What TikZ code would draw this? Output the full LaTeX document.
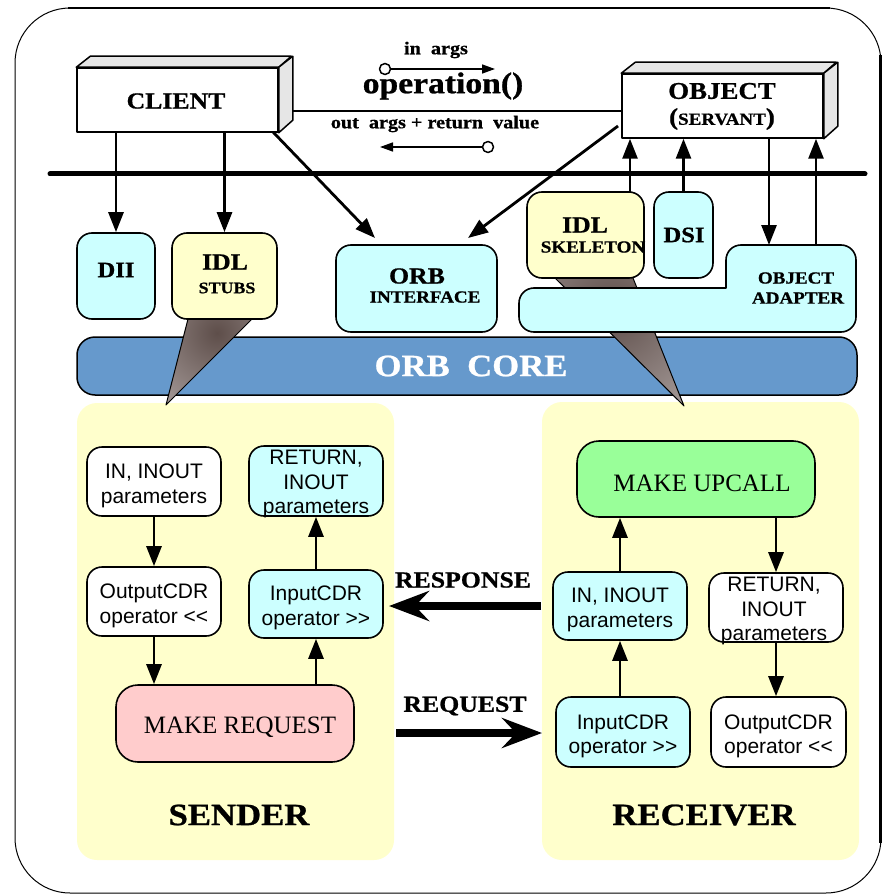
\documentclass[tikz,border=0pt]{standalone}
\usepackage{fontspec}
\setmainfont{Liberation Serif}[BoldFeatures={FakeBold=0.8}]
\newfontfamily\arialf{Liberation Sans}
\usepackage{graphicx}
\usetikzlibrary{arrows.meta,calc}
\definecolor{cyanbox}{HTML}{CCFFFF}
\definecolor{yelbox}{HTML}{FFFFCC}
\definecolor{panelc}{HTML}{FFFFCC}
\definecolor{corebar}{HTML}{6699CC}
\definecolor{pinkbox}{HTML}{FFCCCC}
\definecolor{greenbox}{HTML}{99FF99}
\definecolor{sideg}{HTML}{E6E6E6}
\definecolor{conedark}{HTML}{5E4E4A}
\definecolor{conelight}{HTML}{E6E0E0}
\newcommand{\bt}[2]{\scalebox{1.12}[1]{\fontsize{#1}{#1}\selectfont\bfseries #2}}
\begin{document}
\begin{tikzpicture}[x=1pt,y=-1pt,line join=round,
  rbox/.style={draw,line width=1.6,rounded corners=15,inner sep=0},
  sbox/.style={draw,line width=1.6,rounded corners=15,inner sep=0},
  stext/.style={inner sep=0,align=center,font=\arialf\fontsize{21}{24.5}\selectfont},
  panelbox/.style={fill=panelc,rounded corners=20,inner sep=0},
  cube/.style={draw,line width=1.5,fill=white,inner sep=0,minimum width=201,minimum height=64},
  face/.style={draw,line width=1.5,fill=sideg},
  arr/.style={line width=2.8,-{Triangle[length=20pt,width=15pt]}},
  thinarr/.style={line width=1.5,-{Triangle[length=13pt,width=9pt]}},
  ring/.style={circle,draw,line width=1.5,fill=white,minimum size=11,inner sep=0},
  bigarr/.style={line width=8,-{Stealth[length=40pt,width=30pt,inset=14pt]}},
  lbl/.style={inner sep=0}]
\useasboundingbox (0,0) rectangle (886,896);
\fill[white] (0,0) rectangle (886,896);
% frame
\draw[line width=1,rounded corners=55] (15,8) rectangle (881,893);
\draw[line width=2.5] (68,8) -- (830,8);
\draw[line width=3] (880,55) -- (880,843);
% panels
\node[panelbox,minimum width=317,minimum height=457] (sender) at (235.5,631.5) {};
\node[panelbox,minimum width=317,minimum height=458] (receiver) at (700.5,631) {};
% ORB core
\node[draw,line width=1.5,fill=corebar,rounded corners=18,minimum width=780,minimum height=58,inner sep=0] (core) at (467,366) {};
\node[lbl,text=white] (coret) at (471,366) {\bt{31}{ORB\ \ CORE}};
% cones
\begin{scope}
\clip (188,319) -- (252,319) -- (166,405) -- cycle;
\shade[inner color=conedark,outer color=conelight] (217,333) circle (170pt);
\end{scope}
\draw[line width=1] (188,319) -- (166,405) -- (252,319);
\begin{scope}
\clip (555,278) -- (633,278) -- (684,406) -- cycle;
\shade[inner color=conedark,outer color=conelight] (612,310) circle (230pt);
\end{scope}
\draw[line width=1] (555,278) -- (684,406) -- (633,278);
% top boxes
\node[rbox,fill=cyanbox,minimum width=78,minimum height=86] (dii) at (116,276) {};
\node[lbl] (diit) at (116,270) {\bt{22}{DII}};
\node[rbox,fill=yelbox,minimum width=105,minimum height=86] (stubs) at (224.5,276) {};
\node[lbl] (stubst1) at (225,262) {\bt{23}{IDL}};
\node[lbl] (stubst2) at (227,288) {\bt{16}{STUBS}};
\node[rbox,fill=cyanbox,minimum width=161,minimum height=87] (orbif) at (416.5,288.5) {};
\node[lbl] (orbift1) at (417,276) {\bt{23}{ORB}};
\node[lbl] (orbift2) at (425,297) {\bt{17}{INTERFACE}};
\node[rbox,fill=yelbox,minimum width=117,minimum height=86] (skel) at (585.5,235) {};
\node[lbl] (skelt1) at (585,225) {\bt{23}{IDL}};
\node[lbl] (skelt2) at (593,247) {\bt{17}{SKELETON}};
\node[rbox,fill=cyanbox,minimum width=59,minimum height=86] (dsi) at (683.5,235) {};
\node[lbl] (dsit) at (684,235) {\bt{22}{DSI}};
% object adapter (L shape)
\draw[line width=1.6,fill=cyanbox] (534,288) -- (726,288) -- (726,260)
  arc[start angle=180,end angle=90,radius=15pt] -- (841,245)
  arc[start angle=90,end angle=0,radius=15pt] -- (856,317)
  arc[start angle=0,end angle=-90,radius=15pt] -- (534,332)
  arc[start angle=-90,end angle=-180,radius=15pt] -- (519,303)
  arc[start angle=180,end angle=90,radius=15pt] -- cycle;
\node[lbl] (oat1) at (796,278) {\bt{17}{OBJECT}};
\node[lbl] (oat2) at (798,298) {\bt{17}{ADAPTER}};
\coordinate (oa1) at (769,245);
\coordinate (oa2) at (816,245);
% client and object cubes
\node[cube] (client) at (177.5,100) {};
\node[cube] (object) at (722.5,106) {};
% operation line
\coordinate (opL) at (292,111);
\draw[line width=1.3] (opL) -- (opL -| object.west);
% connectors from client
\draw[arr] (dii.north |- client.south) -- (dii.north);
\draw[arr] (stubs.north |- client.south) -- (stubs.north);
\coordinate (cl1) at (273,132);
\coordinate (oi1) at (375,238);
\draw[arr] (cl1) -- (oi1);
\coordinate (ob1) at (618,126);
\coordinate (oi2) at (468,238);
\draw[arr] (ob1) -- (oi2);
% connectors to object
\coordinate (sk1) at (630,192);
\draw[arr] (sk1) -- (sk1 |- object.south);
\draw[arr] (dsi.north) -- (dsi.north |- object.south);
\draw[arr] (oa1 |- object.south) -- (oa1);
\draw[arr] (oa2) -- (oa2 |- object.south);
% bus
\draw[line width=5,line cap=round] (50,174) -- (865,174);
% cube faces
\draw[face] (client.north west) -- ++(14,-11) -- ++(201,0) -- (client.north east) -- cycle;
\draw[face] (client.north east) -- ++(14,-11) -- ++(0,64) -- (client.south east) -- cycle;
\draw[face] (object.north west) -- ++(14,-11) -- ++(201,0) -- (object.north east) -- cycle;
\draw[face] (object.north east) -- ++(14,-11) -- ++(0,64) -- (object.south east) -- cycle;
\node[lbl] (clientt) at (176,101) {\bt{23}{CLIENT}};
\node[lbl] (objt1) at (722,91) {\bt{24}{OBJECT}};
\node[lbl] (objt2) at (722,119) {\scalebox{1.12}[1]{\bfseries\fontsize{24}{24}\selectfont(\fontsize{17}{17}\selectfont SERVANT\fontsize{24}{24}\selectfont)}};
% operation labels
\node[lbl] (inargs) at (436,50) {\bt{18}{in\ \ args}};
\node[lbl] (opname) at (443,86) {\bt{30}{operation()}};
\node[lbl] (outargs) at (435,124) {\bt{18}{out\ \ args + return\ \ value}};
\node[ring] (r1) at (385,69) {};
\coordinate (r1e) at (495,69);
\draw[thinarr] (r1.east) -- (r1e);
\node[ring] (r2) at (488,147) {};
\coordinate (r2e) at (380,147);
\draw[thinarr] (r2.west) -- (r2e);
% sender
\node[sbox,fill=white,minimum width=134,minimum height=69] (inL) at (154,481.5) {};
\node[stext] (inLt) at ($(inL)+(0,4.5)$) {IN, INOUT\\parameters};
\node[sbox,fill=cyanbox,minimum width=134,minimum height=70] (retL) at (316,481) {};
\node[stext] (retLt) at ($(retL)+(0,3)$) {RETURN,\\INOUT\\parameters};
\node[sbox,fill=white,minimum width=134,minimum height=69] (outcdrL) at (154,601.5) {};
\node[stext] (outcdrLt) at ($(outcdrL)+(0,4.5)$) {OutputCDR\\operator <\kern0pt<};
\node[sbox,fill=cyanbox,minimum width=134,minimum height=68] (incdrL) at (316,604) {};
\node[stext] (incdrLt) at ($(incdrL)+(0,4)$) {InputCDR\\operator >\kern0pt>};
\node[draw,line width=1.6,rounded corners=22,inner sep=0,fill=pinkbox,minimum width=238,minimum height=77] (mreq) at (235,723.5) {};
\node[lbl,font=\fontsize{25}{25}\selectfont] (mreqt) at ($(mreq)+(5,4)$) {MAKE REQUEST};
\draw[arr] (inL.south) -- (outcdrL.north);
\draw[arr] (outcdrL.south) -- (outcdrL.south |- mreq.north);
\draw[arr] (incdrL.south |- mreq.north) -- (incdrL.south);
\draw[arr] (incdrL.north) -- (retL.south);
\node[lbl] (sendert) at (239,815) {\bt{31}{SENDER}};
% receiver
\node[draw,line width=1.6,rounded corners=22,inner sep=0,fill=greenbox,minimum width=238,minimum height=76] (mup) at (696,479) {};
\node[lbl,font=\fontsize{25}{25}\selectfont] (mupt) at ($(mup)+(6,4)$) {MAKE UPCALL};
\node[sbox,fill=cyanbox,minimum width=134,minimum height=68] (inR) at (620,606) {};
\node[stext] (inRt) at ($(inR)+(0,4)$) {IN, INOUT\\parameters};
\node[sbox,fill=white,minimum width=134,minimum height=69] (retR) at (776,607.5) {};
\node[stext] (retRt) at ($(retR)+(-2,3.5)$) {RETURN,\\INOUT\\parameters};
\node[sbox,fill=cyanbox,minimum width=134,minimum height=70] (incdrR) at (623,732) {};
\node[stext] (incdrRt) at ($(incdrR)+(0,4.5)$) {InputCDR\\operator >\kern0pt>};
\node[sbox,fill=white,minimum width=135,minimum height=70] (outcdrR) at (778.5,732) {};
\node[stext] (outcdrRt) at ($(outcdrR)+(0,4.5)$) {OutputCDR\\operator <\kern0pt<};
\draw[arr] (inR.north) -- (inR.north |- mup.south);
\draw[arr] (inR.south |- incdrR.north) -- (inR.south);
\draw[arr] (retR.north |- mup.south) -- (retR.north);
\draw[arr] (retR.south) -- (retR.south |- outcdrR.north);
\node[lbl] (receivert) at (704,815) {\bt{31}{RECEIVER}};
% response / request
\node[lbl] (respt) at (463,580) {\bt{23}{RESPONSE}};
\coordinate (rs1) at (541,606);
\coordinate (rs2) at (389,606);
\draw[bigarr] (rs1) -- (rs2);
\node[lbl] (reqt) at (465,706) {\bt{23}{REQUEST}};
\coordinate (rq1) at (396,733);
\coordinate (rq2) at (542,733);
\draw[bigarr] (rq1) -- (rq2);
\end{tikzpicture}
\end{document}
